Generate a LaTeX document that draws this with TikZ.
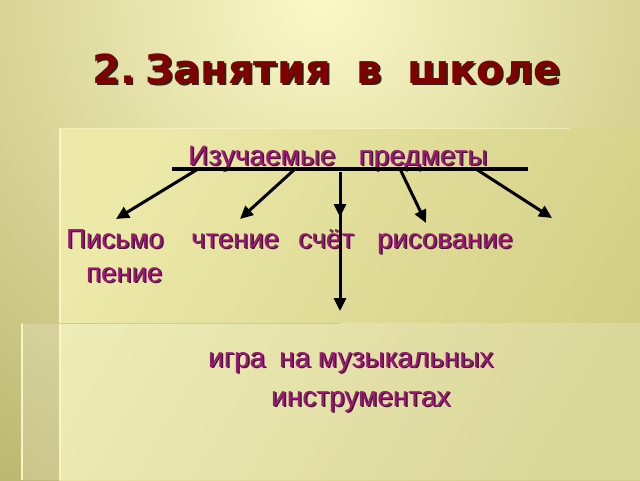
\documentclass[tikz,border=0pt]{standalone}
\usepackage{fontspec}
\setmainfont{Liberation Sans}
\newfontfamily\titlefont{DejaVu Sans}
\usetikzlibrary{arrows.meta}
\definecolor{bgIn}{HTML}{FAF8C8}
\definecolor{bgOut}{HTML}{ADA75A}
\definecolor{panA}{HTML}{ECE9A9}
\definecolor{panB}{HTML}{D3CF86}
\definecolor{hiline}{HTML}{F8F4C4}
\definecolor{loline}{HTML}{C9C583}
\definecolor{purp}{HTML}{A2137F}
\definecolor{pshadow}{HTML}{3A1E28}
\definecolor{titleRed}{HTML}{7E0000}
\definecolor{tshadow}{HTML}{2E2414}
\newcommand\shadowtext[3]{\rlap{\kern#3\raisebox{-#3}{\color{#1}#2}}#2}
\tikzset{
  word/.style={anchor=base west, inner sep=0pt, text=purp,
    font=\fontsize{28}{32}\selectfont},
  rowword/.style={word, font=\fontsize{27.5}{32}\selectfont},
  conn/.style={line width=3pt, -{Triangle[length=13pt,width=12pt]}},
  bar/.style={line width=3.5pt},
}
\begin{document}
\begin{tikzpicture}[x=1pt,y=-1pt]
\useasboundingbox (0,0) rectangle (640,480);
% background
\begin{scope}
  \clip (0,0) rectangle (640,480);
  \fill[bgOut] (0,0) rectangle (640,480);
  \shade[inner color=bgIn, outer color=bgOut] (320,0) circle (720pt);
  % upper panel
  \shade[top color=panA, bottom color=panB, shading angle=60] (59,128) rectangle (640,480);
  % lower panel
  \fill[white, opacity=0.18] (22,323) rectangle (640,480);
  \draw[hiline, line width=1.6pt] (60,128) -- (60,480);
  \draw[hiline, line width=0.8pt, opacity=0.7] (60,128) -- (570,128);
  \draw[hiline, line width=1.6pt] (22,323) -- (22,480);
  \draw[loline, line width=1pt, opacity=0.8] (22,323) -- (340,323);
\end{scope}
% title
\node[anchor=base west, inner sep=0pt, text=titleRed,
  font=\titlefont\bfseries\fontsize{40}{44}\selectfont] (title) at (92,83)
  {\shadowtext{tshadow}{2.\hspace{0.25em}Занятия\hspace{26pt}в\hspace{25pt}школе}{2pt}};
% texts
\node[word] (subj) at (188,165) {\shadowtext{pshadow}{Изучаемые\hspace{23pt}предметы}{1.5pt}};
\node[rowword] (w1) at (66,248) {\shadowtext{pshadow}{Письмо}{1.5pt}};
\node[rowword] (w2) at (191,248) {\shadowtext{pshadow}{чтение}{1.5pt}};
\node[rowword] (w3) at (298,248) {\shadowtext{pshadow}{счёт}{1.5pt}};
\node[rowword] (w4) at (377,248) {\shadowtext{pshadow}{рисование}{1.5pt}};
\node[rowword] (w5) at (86,282) {\shadowtext{pshadow}{пение}{1.5pt}};
\node[word] (m1) at (208,367) {\shadowtext{pshadow}{игра\hspace{14pt}на музыкальных}{1.5pt}};
\node[word] (m2) at (271,406) {\shadowtext{pshadow}{инструментах}{1.5pt}};
% connectors
\coordinate (barL) at (172,169);
\coordinate (barR) at (528,169);
\coordinate (s1) at (198,169);
\coordinate (s2) at (295,169);
\coordinate (s3) at (340,172);
\coordinate (s4) at (400,169);
\coordinate (s5) at (476,169);
\coordinate (t1) at (116,219);
\coordinate (t2) at (240,219);
\coordinate (t3) at (340,217);
\coordinate (t4) at (426,223);
\coordinate (t5) at (552,218);
\coordinate (t6) at (340,311);
\draw[bar] (barL) -- (barR);
\draw[conn] (s1) -- (t1);
\draw[conn] (s2) -- (t2);
\draw[conn] (s3) -- (t3);
\draw[conn] (s3) -- (t6);
\draw[conn] (s4) -- (t4);
\draw[conn] (s5) -- (t5);
\end{tikzpicture}
\end{document}
